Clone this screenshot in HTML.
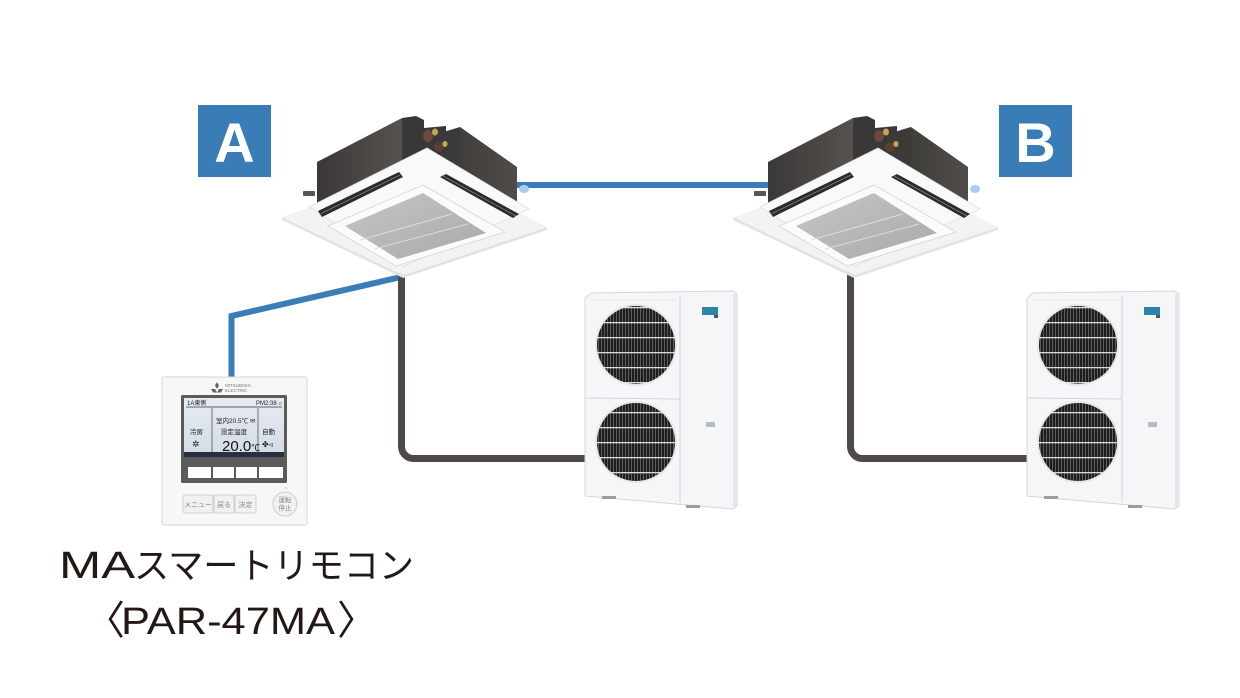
<!DOCTYPE html>
<html><head><meta charset="utf-8">
<style>
html,body{margin:0;padding:0;background:#fff;}
svg{display:block;}
text{font-family:"Liberation Sans","Noto Sans CJK JP",sans-serif;}
</style></head>
<body>
<svg width="1240" height="698" viewBox="0 0 1240 698" xmlns="http://www.w3.org/2000/svg">
<defs>
 <pattern id="grille" patternUnits="userSpaceOnUse" width="3" height="15">
  <rect width="3" height="15" fill="#1d1d1d"/>
  <rect x="1" width="1" height="15" fill="#5e5e5e"/>
  <rect y="7" width="3" height="1.3" fill="#dadada"/>
 </pattern>
 <linearGradient id="bodyL" x1="0" x2="1" y1="0" y2="0">
  <stop offset="0" stop-color="#3a3836"/><stop offset="1" stop-color="#55524f"/>
 </linearGradient>
 <linearGradient id="bodyR" x1="0" x2="1" y1="0" y2="0">
  <stop offset="0" stop-color="#403e3b"/><stop offset="1" stop-color="#4f4c49"/>
 </linearGradient>
 <linearGradient id="mesh" x1="0" y1="0" x2="1" y2="1">
  <stop offset="0" stop-color="#c6c6c6"/><stop offset="1" stop-color="#a9a9a9"/>
 </linearGradient>
 <linearGradient id="lcd" x1="0" y1="0" x2="0" y2="1">
  <stop offset="0" stop-color="#e7ecf2"/><stop offset="1" stop-color="#d3dbe5"/>
 </linearGradient>
</defs>

<!-- blue communication line A-B -->
<line x1="515" y1="185" x2="775" y2="185" stroke="#3a7db8" stroke-width="6"/>
<!-- blue line remote -> A -->
<polyline points="231.5,382 231.5,316 401,277" fill="none" stroke="#3a7db8" stroke-width="6" stroke-linejoin="miter"/>

<!-- refrigerant pipes -->
<path d="M401.5,262 V446.5 A12,12 0 0 0 413.5,458.5 H592" fill="none" stroke="#4f4a47" stroke-width="7"/>
<path d="M850.5,262 V446.5 A12,12 0 0 0 862.5,458.5 H1034" fill="none" stroke="#4f4a47" stroke-width="7"/>

<!-- indoor unit A -->
<g id="indoorA">
 <polygon points="317,162 402,118 402,180 317,216" fill="url(#bodyL)"/>
 <polygon points="402,118 416,116 424,120 424,128 446,126 446,178 402,180" fill="#3a3836"/>
 <polygon points="440,133 460,127 460,172 440,178" fill="#3c3a38"/>
 <polygon points="460,127 517,167 517,208 460,172" fill="url(#bodyR)"/>
 <rect x="303" y="191" width="12" height="5" fill="#555" rx="1"/>
 <ellipse cx="428" cy="136" rx="5" ry="6" fill="#6a4a3c"/>
 <ellipse cx="435" cy="132" rx="3" ry="3.5" fill="#c8a457"/>
 <ellipse cx="439" cy="147" rx="5" ry="5" fill="#5a3e33"/>
 <ellipse cx="445" cy="144" rx="2.5" ry="3" fill="#c8a457"/>
 <ellipse cx="524" cy="189" rx="5" ry="4" fill="#a9cdee"/>
 <polygon points="282,217 403,275 547,227 547,230 403,278 282,220" fill="#e3e3e3"/>
 <polygon points="282,217 426,167 547,227 403,275" fill="#f3f3f3"/>
 <polygon points="309,207 427,148 529,209 404,266" fill="#f9f9f9" stroke="#e0e0e0" stroke-width="0.8"/>
 <polygon points="318,211 399,172 403,177 322,217" fill="#2b2b2b"/>
 <line x1="321" y1="213.5" x2="400" y2="175" stroke="#808080" stroke-width="0.8"/>
 <polygon points="440,177 446,174 519,214 513,218" fill="#2b2b2b"/>
 <line x1="443" y1="176" x2="516" y2="216" stroke="#808080" stroke-width="0.8"/>
 <polygon points="328,226 423,185 505,232 396,266" fill="#fbfbfb" stroke="#d5d5d5" stroke-width="0.8"/>
 <polygon points="345,226 423,193 486,233 398,259" fill="url(#mesh)"/>
 <line x1="360" y1="240" x2="452" y2="214" stroke="#dcdcdc" stroke-width="1"/>
 <line x1="374" y1="249" x2="468" y2="224" stroke="#dcdcdc" stroke-width="1"/>
</g>
<!-- indoor unit B -->
<g transform="translate(451,0)">
 <polygon points="317,162 402,118 402,180 317,216" fill="url(#bodyL)"/>
 <polygon points="402,118 416,116 424,120 424,128 446,126 446,178 402,180" fill="#3a3836"/>
 <polygon points="440,133 460,127 460,172 440,178" fill="#3c3a38"/>
 <polygon points="460,127 517,167 517,208 460,172" fill="url(#bodyR)"/>
 <rect x="303" y="191" width="12" height="5" fill="#555" rx="1"/>
 <ellipse cx="428" cy="136" rx="5" ry="6" fill="#6a4a3c"/>
 <ellipse cx="435" cy="132" rx="3" ry="3.5" fill="#c8a457"/>
 <ellipse cx="439" cy="147" rx="5" ry="5" fill="#5a3e33"/>
 <ellipse cx="445" cy="144" rx="2.5" ry="3" fill="#c8a457"/>
 <ellipse cx="524" cy="189" rx="5" ry="4" fill="#a9cdee"/>
 <polygon points="282,217 403,275 547,227 547,230 403,278 282,220" fill="#e3e3e3"/>
 <polygon points="282,217 426,167 547,227 403,275" fill="#f3f3f3"/>
 <polygon points="309,207 427,148 529,209 404,266" fill="#f9f9f9" stroke="#e0e0e0" stroke-width="0.8"/>
 <polygon points="318,211 399,172 403,177 322,217" fill="#2b2b2b"/>
 <line x1="321" y1="213.5" x2="400" y2="175" stroke="#808080" stroke-width="0.8"/>
 <polygon points="440,177 446,174 519,214 513,218" fill="#2b2b2b"/>
 <line x1="443" y1="176" x2="516" y2="216" stroke="#808080" stroke-width="0.8"/>
 <polygon points="328,226 423,185 505,232 396,266" fill="#fbfbfb" stroke="#d5d5d5" stroke-width="0.8"/>
 <polygon points="345,226 423,193 486,233 398,259" fill="url(#mesh)"/>
 <line x1="360" y1="240" x2="452" y2="214" stroke="#dcdcdc" stroke-width="1"/>
 <line x1="374" y1="249" x2="468" y2="224" stroke="#dcdcdc" stroke-width="1"/>
</g>

<!-- outdoor unit A -->
<g id="outA">
 <polygon points="585,298 591,293 733,291 737,294 737,506 733,509 585,496" fill="#f5f6f7" stroke="#d3d7db" stroke-width="1"/>
 <rect x="733" y="294" width="4" height="213" fill="#e4e7ea"/>
 <line x1="680" y1="296" x2="680" y2="502" stroke="#cfd3d7"/>
 <line x1="585" y1="398" x2="680" y2="399" stroke="#d3d7db"/>
 <line x1="590" y1="300" x2="676" y2="300" stroke="#e3e6e9"/>
 <circle cx="636" cy="345" r="41" fill="#e6e8ea"/>
 <circle cx="636" cy="345" r="39" fill="url(#grille)"/>
 <circle cx="636" cy="442" r="41" fill="#e6e8ea"/>
 <circle cx="636" cy="442" r="39" fill="url(#grille)"/>
 <rect x="702" y="307" width="16" height="8" fill="#2e84a5"/>
 <rect x="714" y="315" width="4" height="3" fill="#555"/>
 <rect x="706" y="422" width="9" height="5" fill="#b7bcc0"/>
 <rect x="602" y="496" width="14" height="3" fill="#9a9ea2"/>
 <rect x="686" y="505" width="14" height="3" fill="#9a9ea2"/>
</g>
<!-- outdoor unit B -->
<g transform="translate(442,0)">
 <polygon points="585,298 591,293 733,291 737,294 737,506 733,509 585,496" fill="#f5f6f7" stroke="#d3d7db" stroke-width="1"/>
 <rect x="733" y="294" width="4" height="213" fill="#e4e7ea"/>
 <line x1="680" y1="296" x2="680" y2="502" stroke="#cfd3d7"/>
 <line x1="585" y1="398" x2="680" y2="399" stroke="#d3d7db"/>
 <line x1="590" y1="300" x2="676" y2="300" stroke="#e3e6e9"/>
 <circle cx="636" cy="345" r="41" fill="#e6e8ea"/>
 <circle cx="636" cy="345" r="39" fill="url(#grille)"/>
 <circle cx="636" cy="442" r="41" fill="#e6e8ea"/>
 <circle cx="636" cy="442" r="39" fill="url(#grille)"/>
 <rect x="702" y="307" width="16" height="8" fill="#2e84a5"/>
 <rect x="714" y="315" width="4" height="3" fill="#555"/>
 <rect x="706" y="422" width="9" height="5" fill="#b7bcc0"/>
 <rect x="602" y="496" width="14" height="3" fill="#9a9ea2"/>
 <rect x="686" y="505" width="14" height="3" fill="#9a9ea2"/>
</g>

<!-- A / B labels -->
<rect x="198" y="105" width="73" height="72" fill="#3a7cb6"/>
<text x="234.5" y="162" font-size="56" font-weight="bold" fill="#fff" text-anchor="middle">A</text>
<rect x="999" y="105" width="73" height="72" fill="#3a7cb6"/>
<text x="1035.5" y="162" font-size="56" font-weight="bold" fill="#fff" text-anchor="middle">B</text>

<!-- remote controller -->
<g>
 <rect x="162" y="377" width="145" height="148" fill="#f7f7f7" stroke="#d6d6d6" rx="2"/>
 <g fill="#666">
  <polygon points="217,382 219,385.5 217,389 215,385.5"/>
  <polygon points="215,389 217,392.5 213,392.5 211,389"/>
  <polygon points="219,389 223,389 221,392.5 217,392.5"/>
 </g>
 <text x="225" y="387" font-size="4.5" fill="#777">MITSUBISHI</text>
 <text x="225" y="392" font-size="4.5" fill="#777">ELECTRIC</text>
 <rect x="181" y="395" width="106" height="88" fill="#5b5b5b" rx="1.5"/>
 <rect x="184" y="398" width="100" height="59" fill="url(#lcd)"/>
 <line x1="186" y1="407" x2="282" y2="407" stroke="#333" stroke-width="0.8"/>
 <line x1="212" y1="408" x2="212" y2="452" stroke="#555" stroke-width="0.8"/>
 <line x1="258" y1="408" x2="258" y2="452" stroke="#555" stroke-width="0.8"/>
 <rect x="184" y="452" width="100" height="5" fill="#25313f"/>
 <text x="187" y="405" font-size="6" fill="#222">1A東側</text>
 <text x="256" y="405" font-size="6" fill="#222">PM2:38 ⌂</text>
 <text x="216" y="423" font-size="6.5" fill="#222">室内20.5℃ ✉</text>
 <text x="221" y="434" font-size="6.5" fill="#222">設定温度</text>
 <text x="222" y="451" font-size="15" fill="#111">20.0<tspan font-size="9">℃</tspan></text>
 <text x="190" y="434" font-size="6.5" fill="#222">冷房</text>
 <text x="192" y="447" font-size="9" fill="#222">✲</text>
 <text x="262" y="434" font-size="6.5" fill="#222">自動</text>
 <text x="262" y="447" font-size="8" fill="#222">✤◃</text>
 <rect x="188" y="467" width="23" height="11" fill="#fff"/>
 <rect x="213" y="467" width="21" height="11" fill="#fff"/>
 <rect x="236" y="467" width="21" height="11" fill="#fff"/>
 <rect x="259" y="467" width="24" height="11" fill="#fff"/>
 <circle cx="286" cy="488" r="0.9" fill="#b4d04a"/>
 <rect x="183" y="495" width="30" height="18" fill="#f1f1f1" stroke="#cfcfcf" rx="2"/>
 <rect x="214" y="495" width="20" height="18" fill="#f1f1f1" stroke="#cfcfcf" rx="2"/>
 <rect x="235" y="495" width="21" height="18" fill="#f1f1f1" stroke="#cfcfcf" rx="2"/>
 <text x="198" y="507" font-size="7" fill="#888" text-anchor="middle">メニュー</text>
 <text x="224" y="507" font-size="7" fill="#888" text-anchor="middle">戻る</text>
 <text x="245.5" y="507" font-size="7" fill="#888" text-anchor="middle">決定</text>
 <circle cx="285" cy="504" r="12" fill="#f1f1f1" stroke="#cfcfcf"/>
 <text x="285" y="502" font-size="6.5" fill="#888" text-anchor="middle">運転</text>
 <text x="285" y="510" font-size="6.5" fill="#888" text-anchor="middle">停止</text>
</g>

<!-- caption -->
<text y="578" font-size="38" fill="#231815"><tspan x="59" textLength="76" lengthAdjust="spacingAndGlyphs">MA</tspan><tspan x="134" font-size="36" textLength="280" lengthAdjust="spacingAndGlyphs">スマートリモコン</tspan></text>
<text y="634" font-size="38" fill="#231815"><tspan x="85" font-size="40">〈</tspan><tspan x="121" textLength="214" lengthAdjust="spacingAndGlyphs">PAR-47MA</tspan><tspan x="337" font-size="40">〉</tspan></text>
</svg>
</body></html>
